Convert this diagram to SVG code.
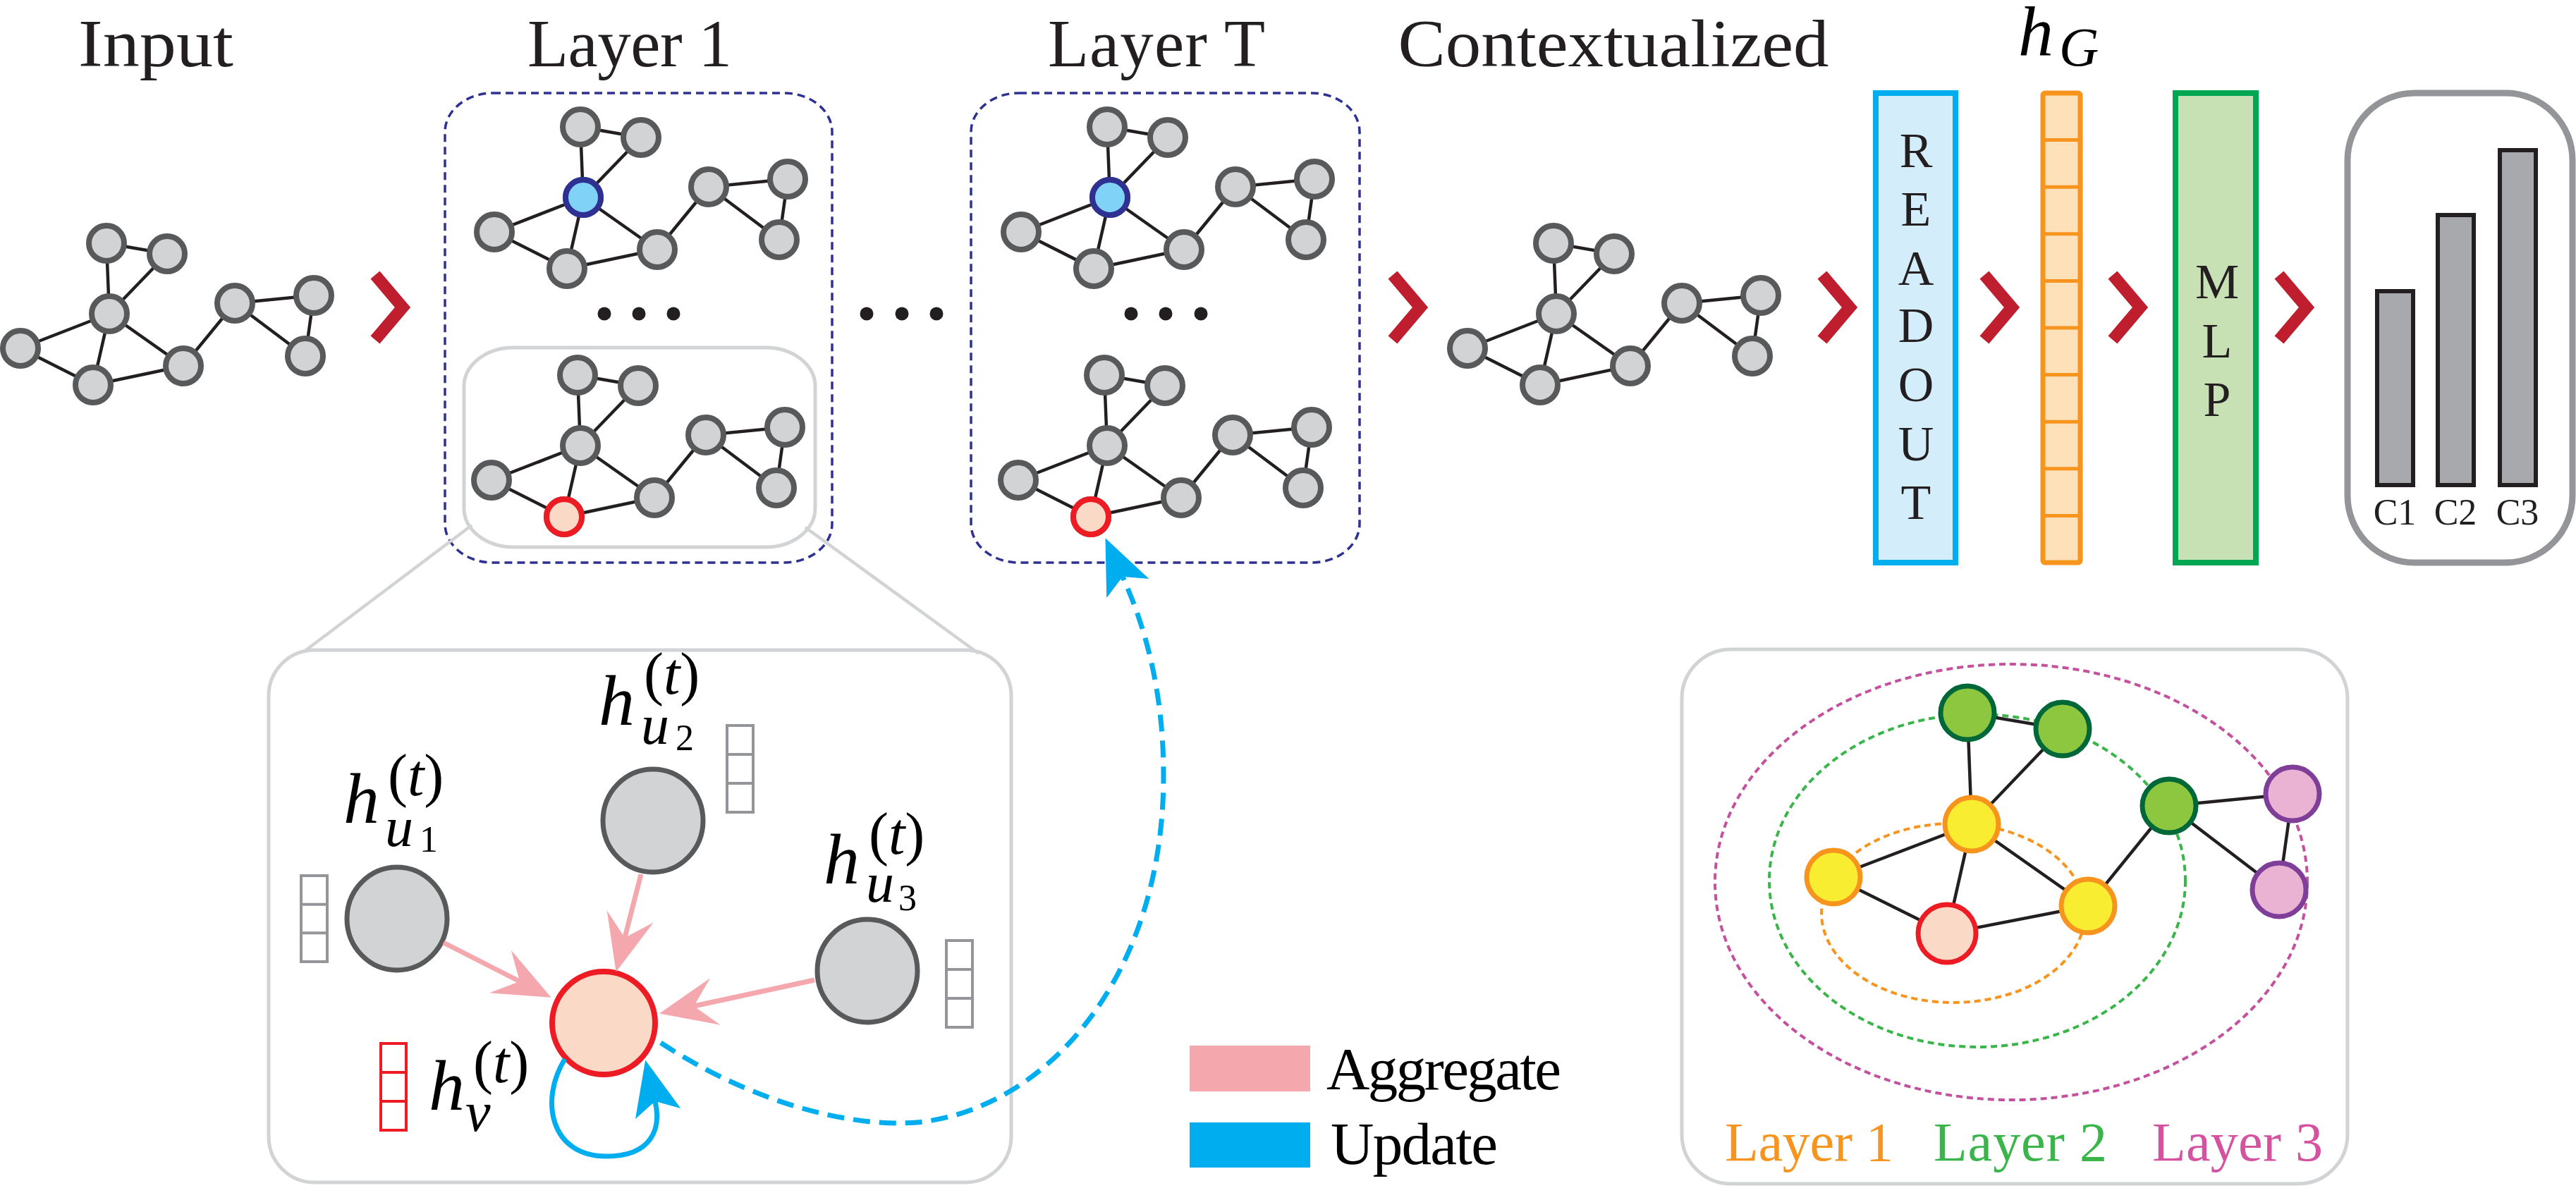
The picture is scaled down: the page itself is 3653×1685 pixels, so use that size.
<svg xmlns="http://www.w3.org/2000/svg" xmlns:xlink="http://www.w3.org/1999/xlink" width="3653" height="1685" viewBox="0 0 3653 1685">
<style>
.ttl{font-family:"Liberation Serif",serif;font-size:95px;fill:#231f20;text-anchor:middle}
.ge{stroke:#231f20;stroke-width:4.5}
.gn{fill:#d1d3d4;stroke:#58595b;stroke-width:8}
.hl-blue{fill:#80d3f7;stroke:#2e3192;stroke-width:8}
.hl-red{fill:#fad9c7;stroke:#ed1c24;stroke-width:8}
.dot{fill:#231f20}
.layerbox{fill:none;stroke:#2e3192;stroke-width:3.5;stroke-dasharray:11 7}
.gray-box{fill:none;stroke:#d1d3d4;stroke-width:5}
.chev{fill:none;stroke:#be1e2d;stroke-width:17;stroke-linejoin:miter}
.vlet{font-family:"Liberation Serif",serif;font-size:70px;fill:#231f20;text-anchor:middle}
.bar{fill:#a7a9ac;stroke:#231f20;stroke-width:6}
.cl{font-family:"Liberation Serif",serif;font-size:52px;fill:#231f20;text-anchor:middle}
.math{font-family:"Liberation Serif",serif;fill:#000}
.it{font-style:italic}
.vec{fill:#fff;stroke:#939598;stroke-width:4}
.vec-red{fill:#fff;stroke:#ed1c24;stroke-width:4}
.dn{fill:#d1d3d4;stroke:#58595b;stroke-width:7}
.agg{fill:none;stroke:#f5a7ae;stroke-width:7}
.upd{fill:none;stroke:#00aeef;stroke-width:7}
.leg{font-family:"Liberation Serif",serif;font-size:85px;fill:#000}
.ring{fill:none;stroke-width:4;stroke-dasharray:9 6}
.lbl{font-family:"Liberation Serif",serif;font-size:78px}
</style>
<defs>
  <g id="tpl-graph">
    <g class="ge">
      <line x1="151" y1="345" x2="237" y2="360"/>
      <line x1="151" y1="345" x2="155" y2="445"/>
      <line x1="237" y1="360" x2="155" y2="445"/>
      <line x1="155" y1="445" x2="29" y2="494"/>
      <line x1="155" y1="445" x2="132" y2="546"/>
      <line x1="155" y1="445" x2="260" y2="519"/>
      <line x1="29" y1="494" x2="132" y2="546"/>
      <line x1="132" y1="546" x2="260" y2="519"/>
      <line x1="260" y1="519" x2="333" y2="430"/>
      <line x1="333" y1="430" x2="445" y2="419"/>
      <line x1="333" y1="430" x2="433" y2="505"/>
      <line x1="445" y1="419" x2="433" y2="505"/>
    </g>
    <g class="gn">
      <circle cx="151" cy="345" r="25"/>
      <circle cx="237" cy="360" r="25"/>
      <circle cx="155" cy="445" r="25"/>
      <circle cx="29" cy="494" r="25"/>
      <circle cx="132" cy="546" r="25"/>
      <circle cx="260" cy="519" r="25"/>
      <circle cx="333" cy="430" r="25"/>
      <circle cx="445" cy="419" r="25"/>
      <circle cx="433" cy="505" r="25"/>
    </g>
  </g>
  <polyline id="tpl-chev" points="532,390 571,436 532,482"/>
  <marker id="arr-pink" markerUnits="userSpaceOnUse" markerWidth="100" markerHeight="80" orient="auto" overflow="visible">
    <path d="M50,0 L-31,-34 L0,0 L-31,34 Z" fill="#f5a7ae"/>
  </marker>
  <marker id="arr-blue" markerUnits="userSpaceOnUse" markerWidth="100" markerHeight="80" orient="auto" overflow="visible">
    <path d="M60,0 L-18,-33 L0,0 L-18,33 Z" fill="#00aeef"/>
  </marker>
</defs>

<g id="titles">
  <text class="ttl" x="221" y="94" textLength="220" lengthAdjust="spacingAndGlyphs">Input</text>
  <text class="ttl" x="893" y="94" textLength="290">Layer 1</text>
  <text class="ttl" x="1640" y="94" textLength="308">Layer T</text>
  <text class="ttl" x="2288" y="94" textLength="611" lengthAdjust="spacingAndGlyphs">Contextualized</text>
</g>

<g id="input-graph">
  <use xlink:href="#tpl-graph"/>
</g>

<g id="layer1">
  <rect class="layerbox" x="631" y="132" width="549" height="666" rx="68" ry="55"/>
  <use xlink:href="#tpl-graph" transform="translate(672,-165)"/>
  <circle class="hl-blue" cx="827" cy="280" r="25"/>
  <circle class="dot" cx="857" cy="445" r="9.5"/>
  <circle class="dot" cx="906" cy="445" r="9.5"/>
  <circle class="dot" cx="955" cy="445" r="9.5"/>
  <rect class="gray-box" x="658" y="493" width="498" height="283" rx="70" ry="55"/>
  <use xlink:href="#tpl-graph" transform="translate(668,187)"/>
  <circle class="hl-red" cx="800" cy="733" r="25"/>
</g>

<g id="between-dots">
  <circle class="dot" cx="1229" cy="445" r="9.5"/>
  <circle class="dot" cx="1279" cy="445" r="9.5"/>
  <circle class="dot" cx="1328" cy="445" r="9.5"/>
</g>

<g id="layerT">
  <rect class="layerbox" x="1377" y="132" width="551" height="666" rx="68" ry="55"/>
  <use xlink:href="#tpl-graph" transform="translate(1419,-165)"/>
  <circle class="hl-blue" cx="1574" cy="280" r="25"/>
  <circle class="dot" cx="1604" cy="445" r="9.5"/>
  <circle class="dot" cx="1653" cy="445" r="9.5"/>
  <circle class="dot" cx="1703" cy="445" r="9.5"/>
  <use xlink:href="#tpl-graph" transform="translate(1415,187)"/>
  <circle class="hl-red" cx="1547" cy="733" r="25"/>
</g>

<g id="contextualized-graph">
  <use xlink:href="#tpl-graph" transform="translate(2052,0)"/>
</g>

<g id="readout">
  <rect x="2660" y="132" width="113" height="666" fill="#d3edfa" stroke="#00aeef" stroke-width="8"/>
  <text class="vlet" x="2717" y="237">R</text>
  <text class="vlet" x="2717" y="320">E</text>
  <text class="vlet" x="2717" y="404">A</text>
  <text class="vlet" x="2717" y="485">D</text>
  <text class="vlet" x="2717" y="569">O</text>
  <text class="vlet" x="2717" y="653">U</text>
  <text class="vlet" x="2717" y="736">T</text>
</g>

<g id="hG">
  <text class="math"><tspan class="it" x="2862" y="78" font-size="100">h</tspan><tspan class="it" x="2920" y="93" font-size="78">G</tspan></text>
  <rect x="2897" y="132" width="53" height="666" rx="3" fill="#fee1b9" stroke="#f7941d" stroke-width="7"/>
  <g stroke="#f7941d" stroke-width="5">
    <line x1="2897" y1="198.6" x2="2950" y2="198.6"/>
    <line x1="2897" y1="265.2" x2="2950" y2="265.2"/>
    <line x1="2897" y1="331.8" x2="2950" y2="331.8"/>
    <line x1="2897" y1="398.4" x2="2950" y2="398.4"/>
    <line x1="2897" y1="465" x2="2950" y2="465"/>
    <line x1="2897" y1="531.6" x2="2950" y2="531.6"/>
    <line x1="2897" y1="598.2" x2="2950" y2="598.2"/>
    <line x1="2897" y1="664.8" x2="2950" y2="664.8"/>
    <line x1="2897" y1="731.4" x2="2950" y2="731.4"/>
  </g>
</g>

<g id="mlp">
  <rect x="3085" y="132" width="114" height="666" fill="#c7e0b4" stroke="#00a651" stroke-width="8"/>
  <text class="vlet" x="3144" y="423">M</text>
  <text class="vlet" x="3144" y="507">L</text>
  <text class="vlet" x="3144" y="590">P</text>
</g>

<g id="output">
  <rect x="3329" y="132" width="319" height="666" rx="95" ry="95" fill="none" stroke="#939598" stroke-width="9"/>
  <rect class="bar" x="3371" y="413" width="51" height="275"/>
  <rect class="bar" x="3457" y="305" width="51" height="383"/>
  <rect class="bar" x="3545" y="213" width="51" height="475"/>
  <text class="cl" x="3396" y="744">C1</text>
  <text class="cl" x="3482" y="744">C2</text>
  <text class="cl" x="3570" y="744">C3</text>
</g>

<g id="chevrons" class="chev">
  <use xlink:href="#tpl-chev"/>
  <use xlink:href="#tpl-chev" transform="translate(1443,0)"/>
  <use xlink:href="#tpl-chev" transform="translate(2052,0)"/>
  <use xlink:href="#tpl-chev" transform="translate(2282,0)"/>
  <use xlink:href="#tpl-chev" transform="translate(2464,0)"/>
  <use xlink:href="#tpl-chev" transform="translate(2700,0)"/>
</g>

<g id="zoom-lines" stroke="#d1d3d4" stroke-width="4.5">
  <line x1="669" y1="745" x2="430" y2="925"/>
  <line x1="1142" y1="748" x2="1388" y2="927"/>
</g>

<g id="detail">
  <rect class="gray-box" x="381" y="922" width="1053" height="755" rx="65" ry="65"/>
  <g id="node-u1">
    <ellipse class="dn" cx="563" cy="1303" rx="71" ry="73"/>
    <rect class="vec" x="427" y="1242" width="37" height="122"/>
    <line x1="427" y1="1282.7" x2="464" y2="1282.7" stroke="#939598" stroke-width="4"/>
    <line x1="427" y1="1323.3" x2="464" y2="1323.3" stroke="#939598" stroke-width="4"/>
    <text class="math"><tspan class="it" x="487" y="1167" font-size="102">h</tspan><tspan x="550" y="1128" font-size="84">(<tspan class="it">t</tspan>)</tspan><tspan class="it" x="546" y="1200" font-size="80">u</tspan><tspan x="595" y="1208" font-size="52">1</tspan></text>
  </g>
  <g id="node-u2">
    <ellipse class="dn" cx="926" cy="1164" rx="71" ry="73"/>
    <rect class="vec" x="1031" y="1029" width="37" height="123"/>
    <line x1="1031" y1="1070" x2="1068" y2="1070" stroke="#939598" stroke-width="4"/>
    <line x1="1031" y1="1111" x2="1068" y2="1111" stroke="#939598" stroke-width="4"/>
    <text class="math"><tspan class="it" x="849" y="1028" font-size="102">h</tspan><tspan x="913" y="984" font-size="84">(<tspan class="it">t</tspan>)</tspan><tspan class="it" x="909" y="1055" font-size="80">u</tspan><tspan x="958" y="1064" font-size="52">2</tspan></text>
  </g>
  <g id="node-u3">
    <ellipse class="dn" cx="1230" cy="1377" rx="71" ry="73"/>
    <rect class="vec" x="1342" y="1334" width="37" height="123"/>
    <line x1="1342" y1="1375" x2="1379" y2="1375" stroke="#939598" stroke-width="4"/>
    <line x1="1342" y1="1416" x2="1379" y2="1416" stroke="#939598" stroke-width="4"/>
    <text class="math"><tspan class="it" x="1168" y="1253" font-size="102">h</tspan><tspan x="1232" y="1211" font-size="84">(<tspan class="it">t</tspan>)</tspan><tspan class="it" x="1228" y="1279" font-size="80">u</tspan><tspan x="1274" y="1291" font-size="52">3</tspan></text>
  </g>
  <g id="node-v">
    <ellipse cx="856" cy="1451" rx="73" ry="73" fill="#fad9c7" stroke="#ed1c24" stroke-width="8"/>
    <rect class="vec-red" x="540" y="1480" width="36" height="123"/>
    <line x1="540" y1="1521" x2="576" y2="1521" stroke="#ed1c24" stroke-width="4"/>
    <line x1="540" y1="1562" x2="576" y2="1562" stroke="#ed1c24" stroke-width="4"/>
    <text class="math"><tspan class="it" x="608" y="1574" font-size="102">h</tspan><tspan x="671" y="1535" font-size="84">(<tspan class="it">t</tspan>)</tspan><tspan class="it" x="660" y="1604" font-size="80">v</tspan></text>
  </g>
</g>

<g id="connectors">
  <line class="agg" x1="629" y1="1337" x2="737" y2="1392" marker-end="url(#arr-pink)"/>
  <line class="agg" x1="909" y1="1240" x2="886" y2="1330" marker-end="url(#arr-pink)"/>
  <line class="agg" x1="1155" y1="1390" x2="984" y2="1427" marker-end="url(#arr-pink)"/>
  <path class="upd" d="M801,1502 C765,1560 780,1640 860,1640 C925,1640 938,1600 929,1562" marker-end="url(#arr-blue)"/>
  <path class="upd" stroke-width="8" stroke-dasharray="24 13" d="M937,1479 C1060,1560 1200,1600 1300,1592 C1480,1575 1650,1390 1650,1100 C1650,975 1622,885 1592,818" marker-end="url(#arr-blue)"/>
</g>

<g id="legend">
  <rect x="1687" y="1483" width="171" height="65" fill="#f5a7ae"/>
  <rect x="1687" y="1592" width="171" height="64" fill="#00aeef"/>
  <text class="leg" x="1881" y="1545" textLength="333">Aggregate</text>
  <text class="leg" x="1887" y="1651" textLength="237">Update</text>
</g>

<g id="receptive-field">
  <rect class="gray-box" x="2385" y="921" width="944" height="758" rx="70" ry="70"/>
  <ellipse class="ring" cx="2852" cy="1251" rx="420" ry="309" stroke="#c4519d"/>
  <ellipse class="ring" cx="2804" cy="1249" rx="295" ry="236" stroke="#39b54a"/>
  <ellipse class="ring" cx="2770" cy="1295" rx="187" ry="127" stroke="#f7941d"/>
  <g class="ge">
    <line x1="2790" y1="1011" x2="2925" y2="1034"/>
    <line x1="2790" y1="1011" x2="2796" y2="1169"/>
    <line x1="2925" y1="1034" x2="2796" y2="1169"/>
    <line x1="2796" y1="1169" x2="2600" y2="1244"/>
    <line x1="2796" y1="1169" x2="2761" y2="1324"/>
    <line x1="2796" y1="1169" x2="2961" y2="1285"/>
    <line x1="2600" y1="1244" x2="2761" y2="1324"/>
    <line x1="2761" y1="1324" x2="2961" y2="1285"/>
    <line x1="2961" y1="1285" x2="3076" y2="1143"/>
    <line x1="3076" y1="1143" x2="3251" y2="1126"/>
    <line x1="3076" y1="1143" x2="3232" y2="1262"/>
    <line x1="3251" y1="1126" x2="3232" y2="1262"/>
  </g>
  <g fill="#8dc63f" stroke="#006838" stroke-width="7">
    <circle cx="2790" cy="1011" r="38"/>
    <circle cx="2925" cy="1034" r="38"/>
    <circle cx="3076" cy="1143" r="38"/>
  </g>
  <g fill="#f9ed32" stroke="#f7941d" stroke-width="7">
    <circle cx="2796" cy="1169" r="38"/>
    <circle cx="2600" cy="1244" r="38"/>
    <circle cx="2961" cy="1285" r="38"/>
  </g>
  <circle cx="2761" cy="1324" r="41" fill="#fad9c7" stroke="#ed1c24" stroke-width="7"/>
  <g fill="#ebb3d3" stroke="#7f3f98" stroke-width="7">
    <circle cx="3251" cy="1126" r="38"/>
    <circle cx="3232" cy="1262" r="38"/>
  </g>
  <text class="lbl" x="2446" y="1646" fill="#f7941d" textLength="239">Layer 1</text>
  <text class="lbl" x="2742" y="1646" fill="#39b54a" textLength="246">Layer 2</text>
  <text class="lbl" x="3052" y="1646" fill="#d4529f" textLength="242">Layer 3</text>
</g>
</svg>
